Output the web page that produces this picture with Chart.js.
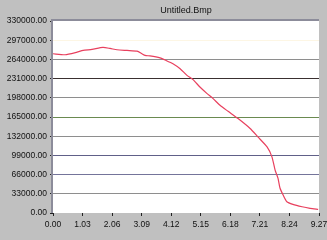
<!DOCTYPE html>
<html>
<head>
<meta charset="utf-8">
<script src="https://cdn.jsdelivr.net/npm/chart.js@4/dist/chart.umd.min.js"></script>
<style>
html,body{margin:0;padding:0;background:#c0c0c0;}
canvas{display:block;}
</style>
</head>
<body>
<canvas id="c" width="327" height="240"></canvas>
<script>
const chartTitle = 'Untitled.Bmp';
const xValues = [0, 0.42, 0.84, 1.05, 1.36, 1.74, 1.99, 2.23, 2.58, 2.93, 3.10, 3.21, 3.38, 3.73, 3.94, 4.18, 4.43, 4.67, 4.88, 5.12, 5.37, 5.58, 5.82, 6.10, 6.45, 6.87, 7.14, 7.46, 7.63, 7.74, 7.84, 7.91, 8.02, 8.15, 8.36, 8.68, 8.96, 9.24];
const yValues = [273700, 272000, 276500, 279400, 281100, 284500, 282800, 280600, 279400, 278200, 273700, 270800, 270000, 266500, 262200, 256600, 248000, 236500, 229200, 216500, 205200, 196600, 185100, 174800, 162300, 145200, 130800, 113600, 96500, 73700, 60000, 42900, 30900, 19400, 14900, 10800, 8100, 6300];
const xTicks = [0, 1.03, 2.06, 3.09, 4.12, 5.15, 6.18, 7.21, 8.24, 9.27];
const yTicks = [0, 33000, 66000, 99000, 132000, 165000, 198000, 231000, 264000, 297000, 330000];
const gridColors = ['rgba(0,0,0,0)', '#8e8e8e', '#74749a', '#606088', '#8e8e8e', '#6a8a50', '#8e8e8e', '#3a3030', '#8e8e8e', '#fdf6e4', 'rgba(0,0,0,0)'];

const points = xValues.map((x, i) => ({x: x, y: yValues[i]}));

const bgPlugin = {
  id: 'bg',
  beforeDraw(chart) {
    const {ctx, chartArea: a} = chart;
    ctx.save();
    ctx.fillStyle = '#c0c0c0';
    ctx.fillRect(0, 0, chart.width, chart.height);
    ctx.fillStyle = '#ffffff';
    ctx.fillRect(a.left, a.top, a.right - a.left, a.bottom - a.top);
    ctx.restore();
  },
  afterDraw(chart) {
    const {ctx, chartArea: a} = chart;
    ctx.save();
    ctx.fillStyle = '#8c8c9a';
    ctx.fillRect(a.left - 2, a.top - 2, a.right - a.left + 2, 2);
    ctx.fillRect(a.left - 2, a.top - 2, 2, a.bottom - a.top + 2);
    ctx.restore();
  }
};

new Chart(document.getElementById('c'), {
  type: 'line',
  data: {
    datasets: [{
      data: points,
      borderColor: '#e8405e',
      borderWidth: 1.2,
      pointRadius: 0,
      tension: 0.2,
      fill: false
    }]
  },
  options: {
    responsive: false,
    animation: false,
    devicePixelRatio: 1,
    layout: {padding: {top: 0, right: 8, left: 0, bottom: 0}},
    plugins: {
      legend: {display: false},
      tooltip: {enabled: false},
      title: {
        display: true,
        text: chartTitle,
        fullSize: false,
        color: '#111',
        font: {family: 'Liberation Sans', size: 9, weight: 'normal', lineHeight: 1},
        padding: {top: 6, bottom: 6}
      }
    },
    scales: {
      x: {
        type: 'linear',
        min: 0,
        max: 9.27,
        afterBuildTicks: s => { s.ticks = xTicks.map(v => ({value: v})); },
        afterFit: s => { s.height = 27; s.paddingLeft = 0; s.paddingRight = 0; },
        ticks: {
          color: '#111',
          font: {family: 'Liberation Sans', size: 8.5},
          padding: 4,
          maxRotation: 0,
          autoSkip: false,
          callback: v => Number(v).toFixed(2)
        },
        grid: {drawOnChartArea: false, tickLength: 3, color: '#222'},
        border: {display: false}
      },
      y: {
        min: 0,
        max: 330000,
        afterBuildTicks: s => { s.ticks = yTicks.map(v => ({value: v})); },
        afterFit: s => { s.width = 53; s.paddingTop = 0; s.paddingBottom = 0; },
        ticks: {
          color: '#111',
          font: {family: 'Liberation Sans', size: 8.5},
          padding: 3,
          autoSkip: false,
          callback: v => Number(v).toFixed(2)
        },
        grid: {
          drawOnChartArea: true,
          tickLength: 3,
          tickColor: '#222',
          color: ctx => gridColors[ctx.index] || '#8e8e8e',
          lineWidth: 1
        },
        border: {display: false}
      }
    }
  },
  plugins: [bgPlugin]
});
</script>
</body>
</html>
